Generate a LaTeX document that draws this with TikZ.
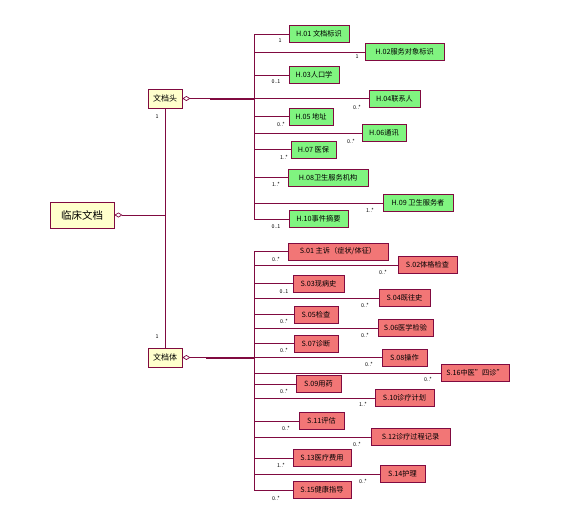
\documentclass[tikz,border=0pt]{standalone}
\usepackage{fontspec}
\setmainfont{Noto Sans CJK SC}
\usetikzlibrary{arrows.meta}
\definecolor{ln}{RGB}{128,10,64}
\definecolor{gfill}{RGB}{128,244,128}
\definecolor{rfill}{RGB}{242,118,118}
\definecolor{yfill}{RGB}{255,255,204}
\tikzset{
  cls/.style={draw=ln, line width=0.8pt, inner sep=0pt, minimum height=17pt, font=\fontsize{7.2}{8}\selectfont, text=black},
  hbox/.style={cls, fill=gfill},
  sbox/.style={cls, fill=rfill},
  ybox/.style={cls, fill=yfill, minimum height=19pt, minimum width=34pt, font=\fontsize{8}{9}\selectfont},
  conn/.style={draw=ln, line width=0.7pt},
  mult/.style={inner sep=0pt, font=\fontsize{5.3}{6}\selectfont, text=black},
  agg/.style={conn, {Diamond[open, length=8pt, width=5pt]}-}
}
\begin{document}
\begin{tikzpicture}[x=1pt,y=-1pt]
\useasboundingbox (0,0) rectangle (565,515);
% main boxes
\node[ybox, minimum width=64pt, minimum height=26pt, font=\fontsize{10.5}{11}\selectfont] (root) at (82,215) {临床文档};
\node[ybox] (hd) at (165,98.5) {文档头};
\node[ybox] (bd) at (165,357.5) {文档体};
% header classes
\node[hbox, minimum width=60pt] (h1) at (319,34) {H.01 文档标识};
\node[hbox, minimum width=79pt] (h2) at (404.5,52) {H.02服务对象标识};
\node[hbox, minimum width=50pt] (h3) at (314,75) {H.03人口学};
\node[hbox, minimum width=51pt] (h4) at (394.5,98.5) {H.04联系人};
\node[hbox, minimum width=44pt] (h5) at (311,116.5) {H.05 地址};
\node[hbox, minimum width=44pt] (h6) at (384,133) {H.06通讯};
\node[hbox, minimum width=45pt] (h7) at (313.5,149.5) {H.07 医保};
\node[hbox, minimum width=80pt] (h8) at (328,177.5) {H.08卫生服务机构};
\node[hbox, minimum width=70pt] (h9) at (418,203) {H.09 卫生服务者};
\node[hbox, minimum width=59pt] (h10) at (318.5,219) {H.10事件摘要};
% body classes
\node[sbox, minimum width=100pt] (s1) at (338,251.5) {S.01 主诉（症状/体征）};
\node[sbox, minimum width=59pt] (s2) at (427.5,265) {S.02体格检查};
\node[sbox, minimum width=51pt] (s3) at (318.5,283.5) {S.03现病史};
\node[sbox, minimum width=51pt] (s4) at (404.5,298) {S.04既往史};
\node[sbox, minimum width=44pt] (s5) at (316,314.5) {S.05检查};
\node[sbox, minimum width=55pt] (s6) at (405.5,328) {S.06医学检验};
\node[sbox, minimum width=44pt] (s7) at (316,343.5) {S.07诊断};
\node[sbox, minimum width=45pt] (s8) at (404.5,357.5) {S.08操作};
\node[sbox, minimum width=68pt] (s16) at (475,373) {S.16中医"四诊"};
\node[sbox, minimum width=45pt] (s9) at (318.5,384) {S.09用药};
\node[sbox, minimum width=59pt] (s10) at (404.5,398) {S.10诊疗计划};
\node[sbox, minimum width=45pt] (s11) at (321.5,421) {S.11评估};
\node[sbox, minimum width=79pt] (s12) at (410.5,437) {S.12诊疗过程记录};
\node[sbox, minimum width=58pt] (s13) at (322,458) {S.13医疗费用};
\node[sbox, minimum width=45pt] (s14) at (402.5,474) {S.14护理};
\node[sbox, minimum width=58pt] (s15) at (322,490) {S.15健康指导};
% buses
\coordinate (bx) at (254,0);
\coordinate (vx) at (165,0);
\draw[conn] (h1.west -| bx) -- (h10.west -| bx);
\draw[conn] (s1.west -| bx) -- (s15.west -| bx);
\foreach \n in {h1,h2,h3,h4,h5,h6,h7,h8,h9,h10,s1,s2,s3,s4,s5,s6,s7,s8,s16,s9,s10,s11,s12,s13,s14,s15}
  \draw[conn] (\n.west -| bx) -- (\n.west);
% aggregations
\coordinate (hj) at (hd.east -| bx);
\coordinate (bj) at (bd.east -| bx);
\coordinate (hk) at (210,0);
\coordinate (bk) at (206,0);
\draw[agg] (hd.east) -- (hj);
\draw[conn, line width=2pt] (hj -| hk) -- (hj);
\draw[agg] (bd.east) -- (bj);
\draw[conn, line width=2pt] (bj -| bk) -- (bj);
\draw[conn] (hd.south) -- (bd.north);
\coordinate (rj) at (root.east -| vx);
\draw[agg] (root.east) -- (rj);
% multiplicities
\node[mult] (m0) at (157,117) {1};
\node[mult] (m00) at (157,337) {1};
\node[mult] (m1) at (280,41) {1};
\node[mult] (m2) at (357,57) {1};
\node[mult] (m3) at (276,82) {0..1};
\node[mult] (m4) at (357,107) {0..*};
\node[mult] (m5) at (281,124) {0..*};
\node[mult] (m6) at (351,141) {0..*};
\node[mult] (m7) at (284,157) {1..*};
\node[mult] (m8) at (276,184) {1..*};
\node[mult] (m9) at (370,210) {1..*};
\node[mult] (m10) at (276,227) {0..1};
\node[mult] (n1) at (276,259) {0..*};
\node[mult] (n2) at (383,272) {0..*};
\node[mult] (n3) at (284,292) {0..1};
\node[mult] (n4) at (365,305) {0..*};
\node[mult] (n5) at (284,321) {0..*};
\node[mult] (n6) at (365,335) {0..*};
\node[mult] (n7) at (284,350) {0..*};
\node[mult] (n8) at (369,364) {0..*};
\node[mult] (n16) at (428,379) {0..*};
\node[mult] (n9) at (284,391) {0..*};
\node[mult] (n10) at (363,404) {1..*};
\node[mult] (n11) at (286,428) {0..*};
\node[mult] (n12) at (357,444) {0..*};
\node[mult] (n13) at (281,465) {1..*};
\node[mult] (n14) at (363,481) {0..*};
\node[mult] (n15) at (276,498) {0..*};
\end{tikzpicture}
\end{document}
